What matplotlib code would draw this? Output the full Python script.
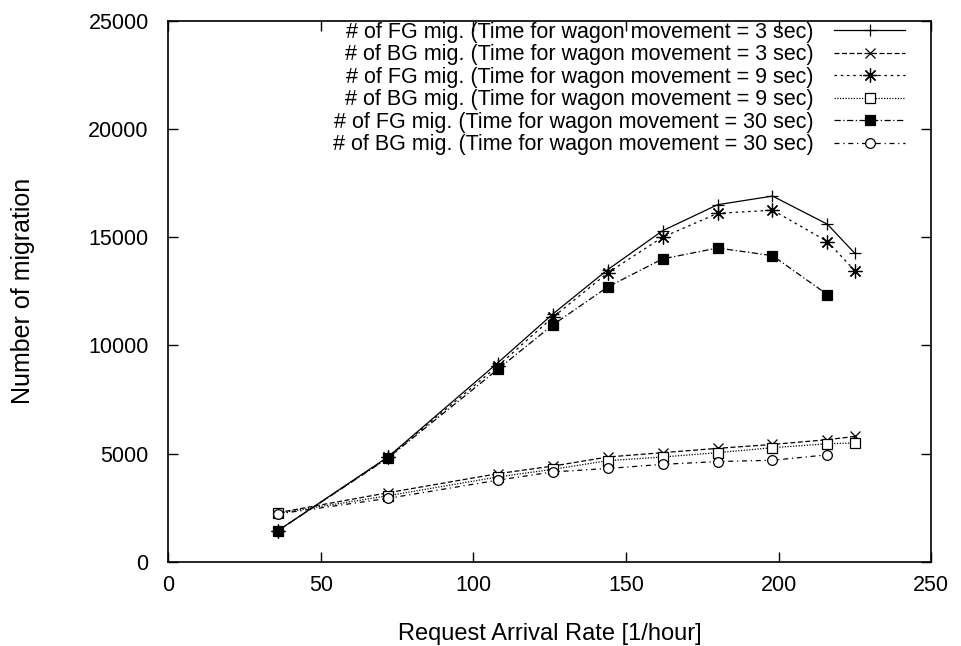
import matplotlib
matplotlib.use("Agg")
import matplotlib.pyplot as plt
from matplotlib.ticker import MultipleLocator

plt.rcParams['font.family'] = ['Liberation Sans', 'DejaVu Sans']

x_full = [36, 72, 108, 126, 144, 162, 180, 198, 216, 225]
x_short = [36, 72, 108, 126, 144, 162, 180, 198, 216]

fg_3 = [1450, 4850, 9200, 11450, 13500, 15300, 16500, 16900, 15600, 14250]
bg_3 = [2280, 3200, 4080, 4430, 4850, 5050, 5250, 5430, 5650, 5800]
fg_9 = [1450, 4830, 9050, 11300, 13350, 15000, 16100, 16250, 14800, 13450]
bg_9 = [2250, 3060, 3930, 4280, 4680, 4850, 5050, 5280, 5460, 5500]
fg_30 = [1450, 4800, 8900, 10950, 12700, 14000, 14500, 14150, 12350]
bg_30 = [2220, 2940, 3780, 4160, 4320, 4510, 4640, 4700, 4950]

labels = [
    "# of FG mig. (Time for wagon movement = 3 sec)",
    "# of BG mig. (Time for wagon movement = 3 sec)",
    "# of FG mig. (Time for wagon movement = 9 sec)",
    "# of BG mig. (Time for wagon movement = 9 sec)",
    "# of FG mig. (Time for wagon movement = 30 sec)",
    "# of BG mig. (Time for wagon movement = 30 sec)",
]

fig = plt.figure(figsize=(9.61, 6.46), dpi=100)
ax = fig.add_axes([0.175, 0.130, 0.794, 0.838])

lw = 0.9
ax.plot(x_full, fg_3, color='black', lw=lw, ls='-', marker='+', ms=9, mew=0.9, label=labels[0])
ax.plot(x_full, bg_3, color='black', lw=lw, ls=(0, (4, 2)), marker='x', ms=7, mew=0.9, label=labels[1])
ax.plot(x_full, fg_9, color='black', lw=lw, ls=(0, (2, 3)), marker=(8, 2, 0), ms=10, mew=0.9, label=labels[2])
ax.plot(x_full, bg_9, color='black', lw=lw, ls=(0, (1, 1.2)), marker='s', ms=7, mew=0.9,
        mfc='white', label=labels[3])
ax.plot(x_short, fg_30, color='black', lw=lw, ls=(0, (5, 2, 1, 2)), marker='s', ms=7, mew=0.9,
        mfc='black', label=labels[4])
ax.plot(x_short, bg_30, color='black', lw=lw, ls=(0, (4, 3, 1, 3)), marker='o', ms=7, mew=0.9,
        mfc='white', label=labels[5])

ax.set_xlim(0, 250)
ax.set_ylim(0, 25000)
ax.xaxis.set_major_locator(MultipleLocator(50))
ax.yaxis.set_major_locator(MultipleLocator(5000))
ax.tick_params(direction='in', top=True, right=True, length=7, width=1, labelsize=15.5)
ax.tick_params(axis='y', pad=14)
ax.tick_params(axis='x', pad=9)
for s in ax.spines.values():
    s.set_linewidth(1.2)

ax.set_xlabel("Request Arrival Rate [1/hour]", fontsize=17, labelpad=20)
ax.set_ylabel("Number of migration", fontsize=18, labelpad=38)

leg = ax.legend(loc='upper right', bbox_to_anchor=(0.966, 0.998), frameon=False, markerfirst=False,
                fontsize=15.5, handlelength=3.3, handletextpad=0.95, labelspacing=0.07,
                borderaxespad=0.0, borderpad=0.0)
for t in leg.get_texts():
    t.set_ha('right')

fig.savefig("out.png", dpi=100)
